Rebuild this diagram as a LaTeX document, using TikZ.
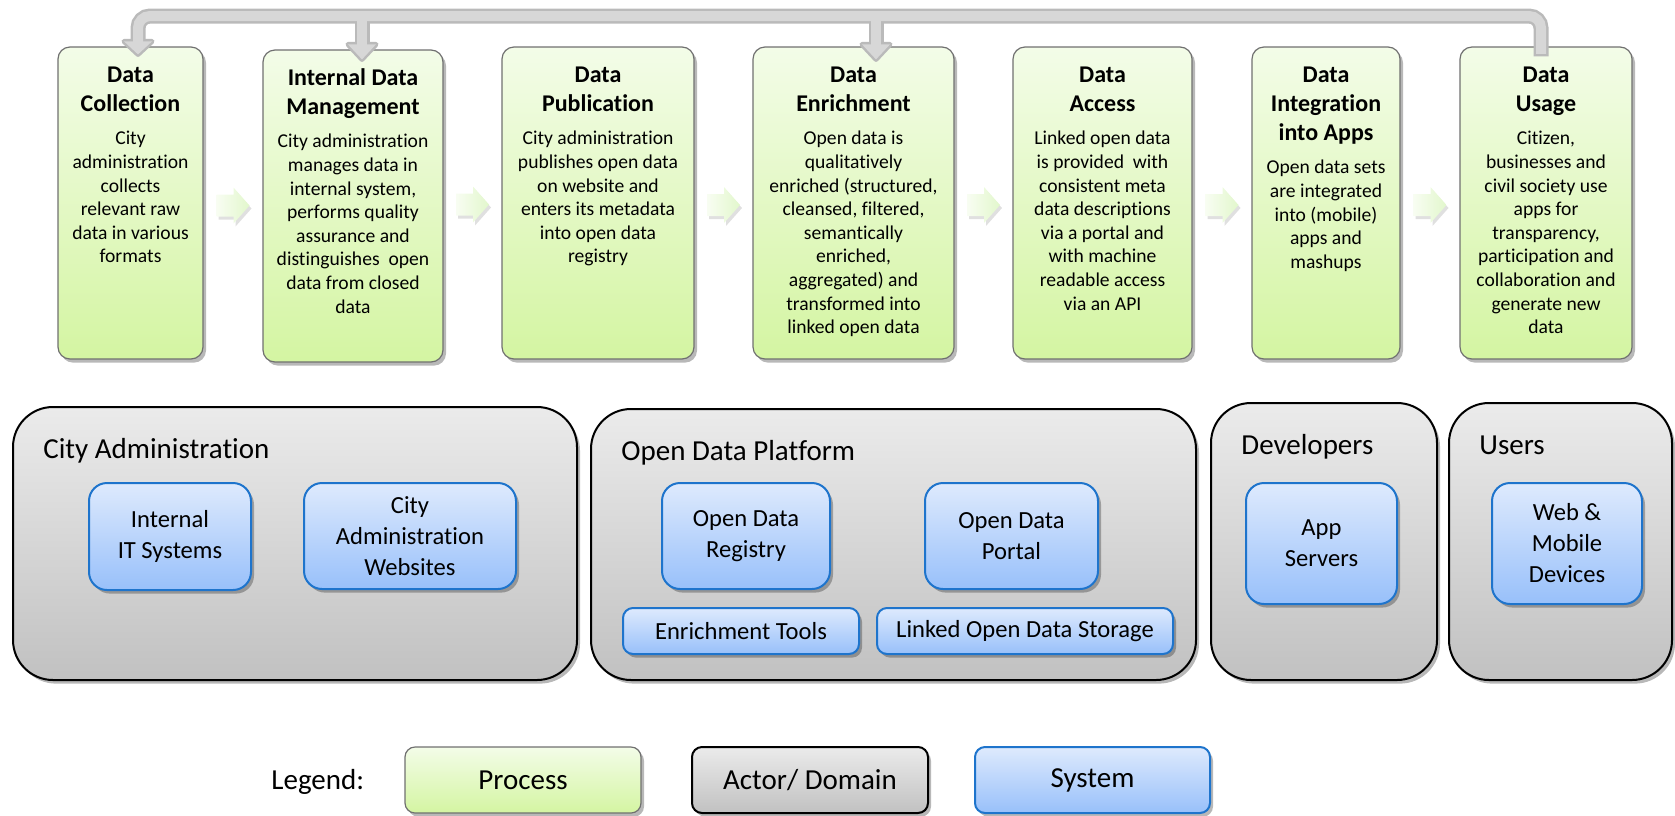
\documentclass[tikz,border=0pt]{standalone}
\usepackage{fontspec}
\setmainfont{Carlito}[Ligatures=NoCommon]
\usetikzlibrary{calc,shadows}

\definecolor{procTop}{RGB}{243,252,232}
\definecolor{procBot}{RGB}{212,245,162}
\definecolor{procLine}{RGB}{112,112,112}
\definecolor{domTop}{RGB}{235,235,235}
\definecolor{domBot}{RGB}{193,193,193}
\definecolor{sysTop}{RGB}{222,234,253}
\definecolor{sysBot}{RGB}{152,192,250}
\definecolor{sysLine}{RGB}{30,116,204}
\definecolor{barOuter}{RGB}{186,186,186}
\definecolor{barInner}{RGB}{215,215,215}
\definecolor{flowL}{RGB}{248,253,242}
\definecolor{flowR}{RGB}{226,247,204}

\tikzset{
  softshadow/.style={drop shadow={shadow xshift=1.5pt, shadow yshift=-1.8pt, opacity=0.28, fill=black}},
  proc/.style={rectangle, rounded corners=6pt, draw=procLine, line width=0.6pt,
    top color=procTop, bottom color=procBot, inner sep=0pt, softshadow},
  ptitle/.style={font=\fontsize{12}{14.5}\selectfont\bfseries, align=center, inner sep=0pt},
  pbody/.style={font=\fontsize{9.8}{11.8}\selectfont, align=center, inner sep=0pt},
  area/.style={rectangle, rounded corners=20pt, draw=black, line width=1pt,
    top color=domTop, bottom color=domBot, inner sep=0pt, softshadow},
  arealabel/.style={font=\fontsize{14.5}{17}\selectfont, inner sep=0pt, anchor=base west},
  sys/.style={rectangle, rounded corners=9pt, draw=sysLine, line width=1pt,
    top color=sysTop, bottom color=sysBot, align=center, inner sep=0pt,
    font=\fontsize{12.3}{15.5}\selectfont, softshadow},
  flowfill/.style={left color=flowL, right color=flowR},
  flowshade/.style={fill=black, opacity=0.12},
  legendtext/.style={font=\fontsize{14.5}{17}\selectfont},
  barout/.style={draw=barOuter, line width=7.5pt, rounded corners=6pt},
  barin/.style={draw=barInner, line width=5pt, rounded corners=6pt},
}

% process step: name, left, right, top, bottom, title, title lines, description
\newcommand\procbox[8]{%
  \node[proc, minimum width={(#3-#2)*0.5pt}, minimum height={(#5-#4)*0.5pt}]
    (#1) at ({(#2+#3)/2},{(#4+#5)/2}) {};
  \node[ptitle, anchor=north] (#1-t) at ({(#2+#3)/2},{#4+11}) {\rule{0pt}{12pt}#6};
  \node[pbody, anchor=north] (#1-b) at ({(#2+#3)/2},{#4+48.5+29*(#7-1)}) {\rule{0pt}{10pt}#8};
}
% actor / domain area: name, left, right, top, bottom, label
\newcommand\areabox[6]{%
  \node[area, minimum width={(#3-#2)*0.5pt}, minimum height={(#5-#4)*0.5pt}]
    (#1) at ({(#2+#3)/2},{(#4+#5)/2}) {};
  \node[arealabel] (#1-l) at ($(#1.north west)+(31,52)$) {#6};
}
% block arrow between two steps, centred on a named coordinate
\newcommand\stepflow[1]{%
  \begin{scope}[shift={(#1)}]
    \fill[flowshade] (-14.5,-8) -- (2.5,-8) -- (2.5,-15) -- (18.5,3) -- (2.5,21) -- (2.5,14) -- (-14.5,14) -- cycle;
    \path[flowfill] (-16.5,-11) -- (0.5,-11) -- (0.5,-18) -- (16.5,0) -- (0.5,18) -- (0.5,11) -- (-16.5,11) -- cycle;
  \end{scope}
}

\begin{document}
\begin{tikzpicture}[x=0.5pt,y=-0.5pt]
\useasboundingbox (0,0) rectangle (1675,815);

% ---------- process chain ----------
\procbox{dc}{58}{203}{47}{359}{Data\\Collection}{2}
  {City\\administration\\collects\\relevant raw\\data in various\\formats}
\procbox{idm}{263}{443}{50}{362}{Internal Data\\Management}{2}
  {City administration\\manages data in\\internal system,\\performs quality\\assurance and\\distinguishes\ \ open\\data from closed\\data}
\procbox{dp}{502}{694}{47}{359}{Data\\Publication}{2}
  {City administration\\publishes open data\\on website and\\enters its metadata\\into open data\\registry}
\procbox{de}{753}{954}{47}{359}{Data\\Enrichment}{2}
  {Open data is\\qualitatively\\enriched (structured,\\cleansed, filtered,\\semantically\\enriched,\\aggregated) and\\transformed into\\linked open data}
\procbox{da}{1013}{1192}{47}{359}{Data\\Access}{2}
  {Linked open data\\is provided\ \ with\\consistent meta\\data descriptions\\via a portal and\\with machine\\readable access\\via an API}
\procbox{di}{1252}{1400}{47}{359}{Data\\Integration\\into Apps}{3}
  {Open data sets\\are integrated\\into (mobile)\\apps and\\mashups}
\procbox{du}{1460}{1632}{47}{359}{Data\\Usage}{2}
  {Citizen,\\businesses and\\civil society use\\apps for\\transparency,\\participation and\\collaboration and\\generate new\\data}

% step arrows
\coordinate (f1) at ($(dc.east)!0.5!(idm.west)+(0,1)$);
\coordinate (f2) at ($(idm.east)!0.5!(dp.west)+(0,0)$);
\coordinate (f3) at ($(dp.east)!0.5!(de.west)+(0,2)$);
\coordinate (f4) at ($(de.east)!0.5!(da.west)+(0,2)$);
\coordinate (f5) at ($(da.east)!0.5!(di.west)+(0,2)$);
\coordinate (f6) at ($(di.east)!0.5!(du.west)+(0,2)$);
\foreach \f in {f1,f2,f3,f4,f5,f6} {\stepflow{\f}}

% feedback loop from usage back to earlier steps
\coordinate (bar) at (0,16);
\coordinate (s0) at ($(du.north)+(-5,10)$);
\coordinate (s1) at ($(du.north)+(-5,7.5)$);
\coordinate (e1) at ($(dc.north)+(7.5,-5)$);
\coordinate (t1) at ($(dc.north)+(7.5,8)$);
\coordinate (e2) at ($(idm.north)+(9,-5)$);
\coordinate (t2) at ($(idm.north)+(9,10)$);
\coordinate (e3) at ($(de.north)+(22.5,-2)$);
\coordinate (t3) at ($(de.north)+(22.5,13)$);

\draw[barout] (s0) -- (s0 |- bar) -- (e1 |- bar) -- (e1);
\draw[barout, rounded corners=0pt] (e2 |- bar) -- (e2);
\draw[barout, rounded corners=0pt] (e3 |- bar) -- (e3);
\foreach \e/\t in {e1/t1, e2/t2, e3/t3}
  \filldraw[fill=barOuter, draw=barOuter, line width=2.5pt, line join=round]
    ($(\e)+(-14,0)$) -- ($(\e)+(14,0)$) -- (\t) -- cycle;
\draw[barin] (s1) -- (s0 |- bar) -- (e1 |- bar) -- ($(e1)+(0,1)$);
\draw[barin, rounded corners=0pt] (e2 |- bar) -- ($(e2)+(0,1)$);
\draw[barin, rounded corners=0pt] (e3 |- bar) -- ($(e3)+(0,1)$);
\foreach \e/\t in {e1/t1, e2/t2, e3/t3}
  \fill[barInner] ($(\e)+(-14,0)$) -- ($(\e)+(14,0)$) -- (\t) -- cycle;

% ---------- actors and their systems ----------
\areabox{ca}{13}{577}{407}{680}{City Administration}
\areabox{odp}{591}{1196}{409}{680}{Open Data Platform}
\areabox{dev}{1211}{1437}{403}{680}{Developers}
\areabox{usr}{1449}{1672}{403}{680}{Users}

\node[sys, minimum width=81pt, minimum height=53.5pt] (iit) at (170,536.5) {Internal\\IT Systems};
\node[sys, minimum width=106pt, minimum height=53pt] (caw) at (410,536) {City\\Administration\\Websites};
\node[sys, minimum width=84pt, minimum height=53pt] (odr) at (746,536) {Open Data\\Registry};
\node[sys, minimum width=86.5pt, minimum height=53pt] (odpo) at (1011.5,536) {Open Data\\Portal};
\node[sys, rounded corners=5pt, minimum width=118pt, minimum height=23pt] (et) at (741,631) {Enrichment Tools};
\node[sys, rounded corners=5pt, minimum width=148pt, minimum height=23pt] (lods) at (1025,631) {Linked Open Data Storage};
\node[sys, minimum width=75.5pt, minimum height=60.5pt] (app) at (1321.5,543.5) {App\\Servers};
\node[sys, minimum width=75pt, minimum height=60.5pt] (wmd) at (1567,543.5) {Web \&\\Mobile\\Devices};

% ---------- legend ----------
\node[legendtext, inner sep=0pt, anchor=base west] (lg) at (271,789) {Legend:};
\node[proc, legendtext, rounded corners=5pt, minimum width=118pt, minimum height=33pt] (lp) at (523,780) {Process};
\node[area, legendtext, rounded corners=5pt, minimum width=118pt, minimum height=33pt] (la) at (810,780) {Actor/ Domain};
\node[sys, legendtext, rounded corners=5pt, minimum width=117.5pt, minimum height=33pt] (ls) at (1092.5,780) {System};
\end{tikzpicture}
\end{document}
